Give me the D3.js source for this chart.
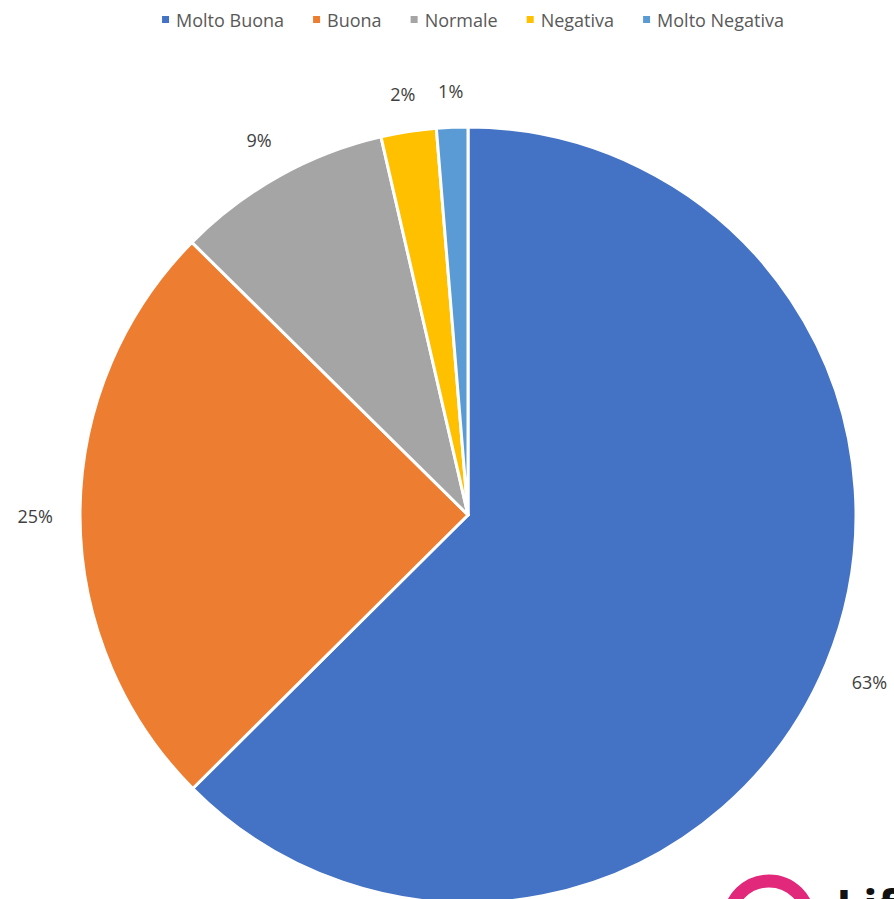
<!DOCTYPE html>
<html>
<head>
<meta charset="utf-8">
<script src="https://cdn.jsdelivr.net/npm/d3@7"></script>
<style>
  html, body { margin: 0; padding: 0; background: #fff; overflow: hidden; }
  svg { display: block; font-family: "Open Sans", "Noto Sans", sans-serif; }
</style>
</head>
<body>
<svg id="chart" width="894" height="899"></svg>
<script>
const categories = ["Molto Buona", "Buona", "Normale", "Negativa", "Molto Negativa"];
const values = [62.55, 24.85, 9.0, 2.3, 1.3];
const colors = ["#4472C4", "#ED7D31", "#A5A5A5", "#FFC000", "#5B9BD5"];
const logoText = "Lif";

const svg = d3.select("#chart");
const cx = 468, cy = 515, R = 388;
const total = d3.sum(values);
const data = categories.map((c, i) => ({ name: c, value: values[i], color: colors[i] }));

const pie = d3.pie().value(d => d.value).sort(null);
const arcs = pie(data);
const arc = d3.arc().innerRadius(0).outerRadius(R);

const g = svg.append("g").attr("transform", `translate(${cx},${cy})`);
g.selectAll("path").data(arcs).enter().append("path")
  .attr("d", arc)
  .attr("fill", d => d.data.color)
  .attr("stroke", "#fff")
  .attr("stroke-width", 3)
  .attr("stroke-linejoin", "round");

// data labels (outside end)
const fmt = v => Math.round(v / total * 100) + "%";
const gap = 27;
arcs.forEach(a => {
  const ang = (a.startAngle + a.endAngle) / 2;
  const dx = Math.sin(ang), dy = -Math.cos(ang);
  const t = g.append("text")
    .attr("font-size", 18)
    .attr("fill", "#404040")
    .attr("text-anchor", "middle")
    .attr("dominant-baseline", "central")
    .text(fmt(a.data.value));
  const bb = t.node().getBBox();
  const hw = bb.width / 2, hh = 9;
  const ext = hw * Math.abs(dx) + hh * Math.abs(dy);
  const r = R + gap + ext;
  t.attr("x", dx * r).attr("y", dy * r);
});

// legend
const legend = svg.append("g");
let x = 0;
data.forEach(d => {
  const it = legend.append("g");
  it.append("rect").attr("x", 0).attr("y", -4).attr("width", 7).attr("height", 7).attr("fill", d.color);
  const t = it.append("text").attr("x", 14).attr("y", 0).attr("dominant-baseline", "central")
    .attr("font-size", 18).attr("fill", "#595959").text(d.name);
  const w = 14 + t.node().getBBox().width;
  it.attr("transform", `translate(${x},0)`);
  x += w + 29;
});
const legW = x - 29;
legend.attr("transform", `translate(${473 - legW / 2},20)`);

// partial logo in bottom-right corner
svg.append("circle").attr("cx", 769).attr("cy", 921).attr("r", 40)
  .attr("fill", "none").attr("stroke", "#E2287A").attr("stroke-width", 13);
svg.append("text").attr("x", 836).attr("y", 925).attr("font-size", 48)
  .attr("font-weight", "bold").attr("fill", "#111").text(logoText);
</script>
</body>
</html>
